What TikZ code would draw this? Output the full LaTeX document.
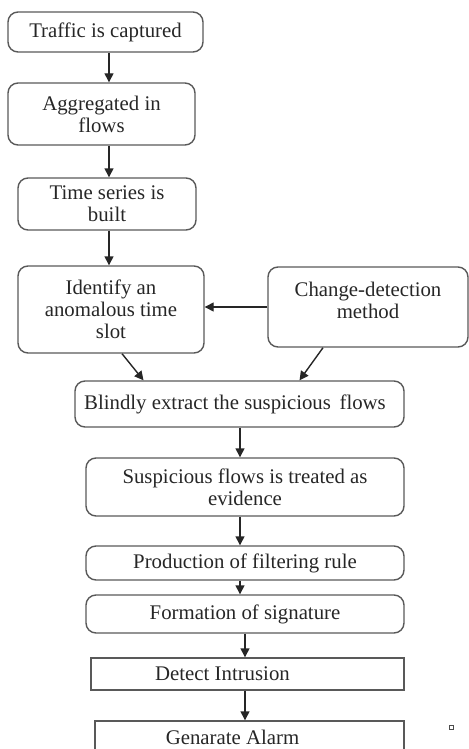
\documentclass[tikz,border=0pt]{standalone}
\usepackage{fontspec}
\setmainfont{Liberation Serif}
\usetikzlibrary{arrows.meta}
\begin{document}
\begin{tikzpicture}[x=0.5pt,y=-0.5pt,
    stepbox/.style={draw=black!65,line width=0.7pt,rounded corners=5pt,align=center,
        text=black!85,font=\fontsize{10.4}{11}\selectfont,inner sep=0pt},
    flatbox/.style={stepbox,rounded corners=0pt},
    arr/.style={-{Triangle[length=4.5pt,width=4.5pt]},line width=0.7pt,black!85}]
    \useasboundingbox (0,0) rectangle (469,749);
    \node[stepbox,minimum width=97.5pt,minimum height=20pt] (cap) at (105.5,32) {Traffic is captured};
    \node[stepbox,minimum width=93.5pt,minimum height=31pt] (agg) at (101.5,114) {Aggregated in\\flows};
    \node[stepbox,minimum width=89pt,minimum height=26pt] (ts) at (107,204) {Time series is\\built};
    \node[stepbox,minimum width=93pt,minimum height=43.5pt] (anom) at (111,309.5) {Identify an\\anomalous time\\slot};
    \node[stepbox,minimum width=100pt,minimum height=40pt] (cdm) at (368,307) {Change-detection\\method\\[-4pt]};
    \node[stepbox,minimum width=164.5pt,minimum height=23pt] (blind) at (239.5,404) {Blindly extract the suspicious\, flows\hspace*{4.5pt}};
    \node[stepbox,minimum width=159pt,minimum height=29pt] (evid) at (245,487) {Suspicious flows is treated as\\evidence};
    \node[stepbox,minimum width=159pt,minimum height=17pt] (rule) at (245,563) {Production of filtering rule};
    \node[stepbox,minimum width=159pt,minimum height=19pt] (sig) at (245,614) {Formation of signature};
    \node[flatbox,minimum width=156.5pt,minimum height=16pt] (det) at (247.5,674) {Detect Intrusion\hspace*{25pt}};
    \node[flatbox,minimum width=154.5pt,minimum height=16pt] (alarm) at (249.5,737) {Genarate Alarm\hspace*{17pt}};
    \coordinate (colA) at (109,0);
    \coordinate (colB) at (240,0);
    \draw[arr] (cap.south -| colA) -- (agg.north -| colA);
    \draw[arr] (agg.south -| colA) -- (ts.north -| colA);
    \draw[arr] (ts.south -| colA) -- (anom.north -| colA);
    \draw[arr] (cdm.west) -- (cdm.west -| anom.east);
    \draw[arr] ([xshift=5.5pt]anom.south) -- ([xshift=-48pt]blind.north);
    \draw[arr] ([xshift=-22.5pt]cdm.south) -- ([xshift=30pt]blind.north);
    \draw[arr] (blind.south -| colB) -- (evid.north -| colB);
    \draw[arr] (evid.south -| colB) -- (rule.north -| colB);
    \draw[arr] (rule.south -| colB) -- (sig.north -| colB);
    \draw[arr] (sig.south) -- (sig.south |- det.north);
    \draw[arr] (sig.south |- det.south) -- (sig.south |- alarm.north);
    \draw[black!70,line width=0.5pt] (449,725) rectangle (453,729);
\end{tikzpicture}
\end{document}
